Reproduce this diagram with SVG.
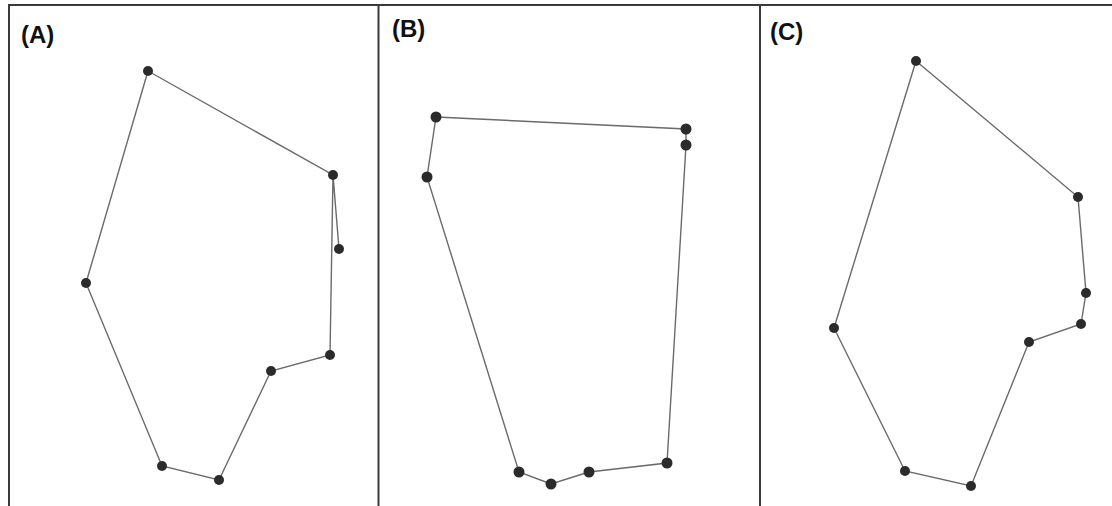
<svg xmlns="http://www.w3.org/2000/svg" width="1112" height="506" viewBox="0 0 1112 506">
<style>
.frame{stroke:#3a3a3a;stroke-width:2;fill:none}
.edge{stroke:#6a6a6a;stroke-width:1.4;fill:none}
.pt{fill:#2b2b2b}
.lbl{font-family:"Liberation Sans",Arial,sans-serif;font-weight:bold;font-size:24px;fill:#111}
</style>
<rect width="1112" height="506" fill="#fff"/>
<g id="frame">
<path class="frame" d="M9 506V5H1112M378.5 5V506M760 5V506"/>
</g>
<g id="labels">
<text class="lbl" x="21" y="43">(A)</text>
<text class="lbl" x="392" y="37">(B)</text>
<text class="lbl" x="770" y="40">(C)</text>
</g>
<g id="connectors">
<path class="edge" d="M148 71L333 175L339 249M333 175L330 355L271 371L219 480L162 466L86 283L148 71"/>
<path class="edge" d="M436 117L686 129L686 145L667 463L589 472L551 484L519 472L427 177Z"/>
<path class="edge" d="M916 61L1078 197L1086 293L1081 324L1029 342L971 486L905 471L834 328Z"/>
</g>
<g id="nodes-A">
<circle class="pt" cx="148" cy="71" r="5"/>
<circle class="pt" cx="333" cy="175" r="5"/>
<circle class="pt" cx="339" cy="249" r="5"/>
<circle class="pt" cx="330" cy="355" r="5"/>
<circle class="pt" cx="271" cy="371" r="5"/>
<circle class="pt" cx="219" cy="480" r="5"/>
<circle class="pt" cx="162" cy="466" r="5"/>
<circle class="pt" cx="86" cy="283" r="5"/>
</g>
<g id="nodes-B">
<circle class="pt" cx="436" cy="117" r="5.5"/>
<circle class="pt" cx="686" cy="129" r="5.5"/>
<circle class="pt" cx="686" cy="145" r="5.5"/>
<circle class="pt" cx="667" cy="463" r="5.5"/>
<circle class="pt" cx="589" cy="472" r="5.5"/>
<circle class="pt" cx="551" cy="484" r="5.5"/>
<circle class="pt" cx="519" cy="472" r="5.5"/>
<circle class="pt" cx="427" cy="177" r="5.5"/>
</g>
<g id="nodes-C">
<circle class="pt" cx="916" cy="61" r="5"/>
<circle class="pt" cx="1078" cy="197" r="5"/>
<circle class="pt" cx="1086" cy="293" r="5"/>
<circle class="pt" cx="1081" cy="324" r="5"/>
<circle class="pt" cx="1029" cy="342" r="5"/>
<circle class="pt" cx="971" cy="486" r="5"/>
<circle class="pt" cx="905" cy="471" r="5"/>
<circle class="pt" cx="834" cy="328" r="5"/>
</g>
</svg>
